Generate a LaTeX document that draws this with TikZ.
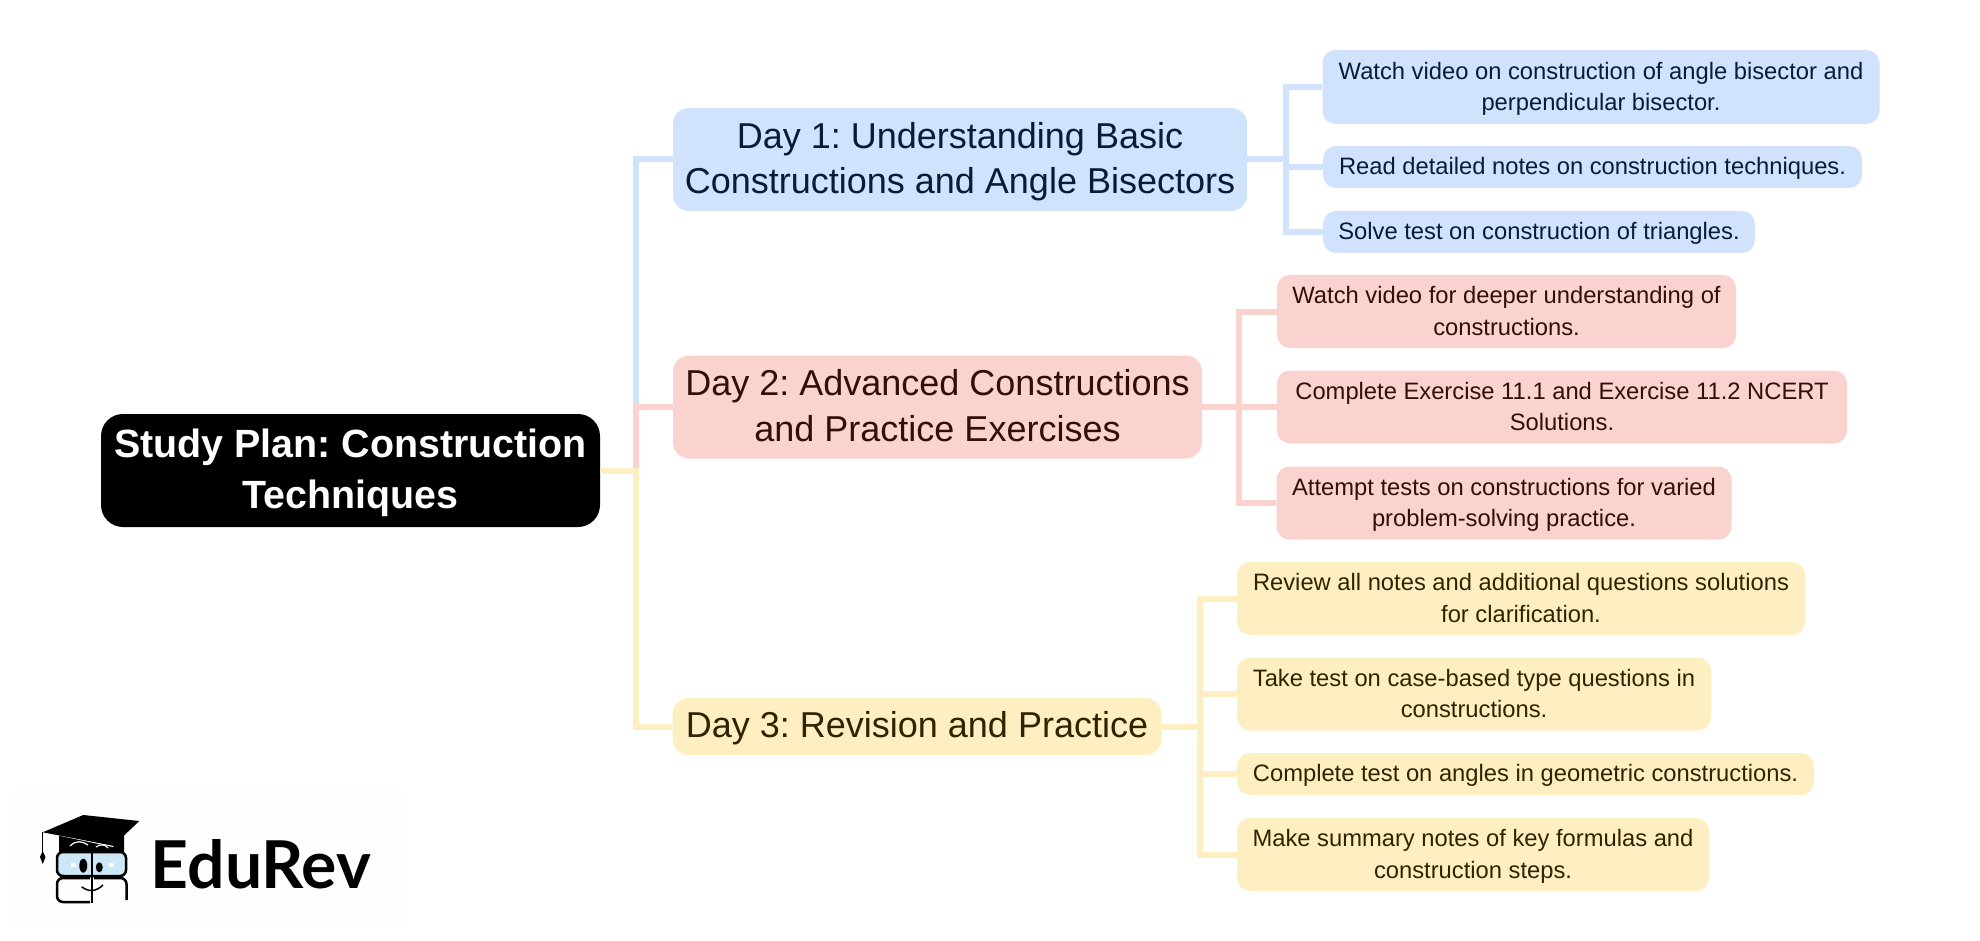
\documentclass[tikz,border=0pt]{standalone}
\usepackage{fontspec}
\setmainfont{Liberation Sans}
\newfontfamily\logofont{Lato}
\frenchspacing
\newcommand{\boxstrut}{\rule[-.25\baselineskip]{0pt}{\baselineskip}}
\newcommand{\boxtext}[1]{\boxstrut #1\boxstrut}
\definecolor{bluefill}{HTML}{D0E2FC}
\definecolor{bluetext}{HTML}{0B1A3A}
\definecolor{redfill}{HTML}{FBD3CE}
\definecolor{redtext}{HTML}{340D0B}
\definecolor{yellowfill}{HTML}{FEEFC3}
\definecolor{yellowtext}{HTML}{302400}
\definecolor{glassblue}{HTML}{CDE7F7}
\definecolor{logoback}{HTML}{FEFEFE}
\begin{document}
\begin{tikzpicture}[x=1pt, y=-1pt]
      \useasboundingbox (0,0) rectangle (1980,941);
      \tikzstyle{box}=[rounded corners=16pt, inner sep=0pt, align=center]
      \tikzstyle{rootbox}=[box, fill=black, text=white, rounded corners=22pt,
        font=\fontsize{39.4}{50.5}\selectfont\bfseries]
      \tikzstyle{daybox}=[box, font=\fontsize{36}{45.5}\selectfont]
      \tikzstyle{leafbox}=[box, rounded corners=13pt, font=\fontsize{23.75}{31.5}\selectfont]
      \tikzstyle{bluebox}=[fill=bluefill, text=bluetext]
      \tikzstyle{redbox}=[fill=redfill, text=redtext]
      \tikzstyle{yellowbox}=[fill=yellowfill, text=yellowtext]
      \tikzstyle{link}=[line width=6pt]

      \path (350.5,470.5) node [rootbox, minimum width=499pt, minimum height=113pt] (root)
        {\boxtext{Study Plan: Construction\\Techniques}};

      \path (960,159.5) node [daybox, bluebox, minimum width=574pt, minimum height=103pt] (day1)
        {\boxtext{Day 1: Understanding Basic\\Constructions and Angle Bisectors}};
      \path (937.5,407) node [daybox, redbox, minimum width=529pt, minimum height=103pt] (day2)
        {\boxtext{Day 2: Advanced Constructions\\and Practice Exercises}};
      \path (917,726.5) node [daybox, yellowbox, minimum width=489pt, minimum height=57pt] (day3)
        {\boxtext{Day 3: Revision and Practice}};

      \path (1601,87) node [leafbox, bluebox, minimum width=557pt, minimum height=74pt] (blue1)
        {\boxtext{Watch video on construction of angle bisector and\\perpendicular bisector.}};
      \path (1592.5,167) node [leafbox, bluebox, minimum width=539pt, minimum height=42pt] (blue2)
        {\boxtext{Read detailed notes on construction techniques.}};
      \path (1539,232) node [leafbox, bluebox, minimum width=432pt, minimum height=42pt] (blue3)
        {\boxtext{Solve test on construction of triangles.}};

      \path (1506.5,311.5) node [leafbox, redbox, minimum width=459pt, minimum height=73pt] (red1)
        {\boxtext{Watch video for deeper understanding of\\constructions.}};
      \path (1562,407) node [leafbox, redbox, minimum width=570pt, minimum height=73pt] (red2)
        {\boxtext{Complete Exercise 11.1 and Exercise 11.2 NCERT\\Solutions.}};
      \path (1504,503) node [leafbox, redbox, minimum width=455pt, minimum height=73pt] (red3)
        {\boxtext{Attempt tests on constructions for varied\\problem-solving practice.}};

      \path (1521,598.5) node [leafbox, yellowbox, minimum width=568pt, minimum height=73pt] (yellow1)
        {\boxtext{Review all notes and additional questions solutions\\for clarification.}};
      \path (1474,694) node [leafbox, yellowbox, minimum width=474pt, minimum height=73pt] (yellow2)
        {\boxtext{Take test on case-based type questions in\\constructions.}};
      \path (1525.5,774) node [leafbox, yellowbox, minimum width=577pt, minimum height=42pt] (yellow3)
        {\boxtext{Complete test on angles in geometric constructions.}};
      \path (1473,854.5) node [leafbox, yellowbox, minimum width=472pt, minimum height=73pt] (yellow4)
        {\boxtext{Make summary notes of key formulas and\\construction steps.}};

      \coordinate (rootbar) at (635.5,0);
      \coordinate (bluebar) at (1285.5,0);
      \coordinate (redbar) at (1239,0);
      \coordinate (yellowbar) at (1199.5,0);

      \draw [link, bluefill] (root.east) -| (rootbar |- day1.west) -- (day1.west);
      \draw [link, redfill] (root.east) -| (rootbar |- day2.west) -- (day2.west);
      \draw [link, yellowfill] (root.east) -| (rootbar |- day3.west) -- (day3.west);

      \foreach \i in {1, 2, 3}
      {
        \draw [link, bluefill] (day1.east) -| (bluebar |- blue\i.west) -- (blue\i.west);
        \draw [link, redfill] (day2.east) -| (redbar |- red\i.west) -- (red\i.west);
      }

      \foreach \i in {1, ..., 4}
      {
        \draw [link, yellowfill] (day3.east) -| (yellowbar |- yellow\i.west) -- (yellow\i.west);
      }

      % logo
      \fill [logoback] (10,790) rectangle (405,925);
      \path (150.5,888) node [anchor=base west, inner sep=0pt, font=\logofont\fontsize{66}{66}\selectfont\bfseries] (logotext) {EduRev};
      \fill (59,834) -- (59,852) -- (124,852) -- (124,830) -- cycle;
      \draw [white, line width=1.2pt] (59,835) -- (113.5,846.5);
      \draw [white, line width=1.2pt] (70,846) .. controls (76,840) and (82,841) .. (88,845);
      \draw [white, line width=1.2pt] (96,847) .. controls (100,844) and (105,844) .. (108,848);
      \fill (42.7,832.3) -- (83.3,815) -- (139.3,821) -- (113.3,845.7) -- cycle;
      \draw [line width=1.2pt] (42.7,832.3) -- (42.7,852);
      \fill (42.7,851) -- (45.5,857) -- (42.7,864) -- (40,857) -- cycle;
      \draw [fill=glassblue, line width=2.5pt, rounded corners=6pt] (57,852) rectangle (126,876);
      \draw [line width=2.5pt, rounded corners=6pt] (90,878) -- (57,878) -- (57,902) -- (90,902);
      \draw [line width=2.5pt, rounded corners=6pt] (94,878) -- (126.5,878) -- (126.5,900);
      \draw [line width=2pt] (91.5,851) -- (91.5,903);
      \fill (83.3,865.7) ellipse [x radius=4pt, y radius=7pt];
      \fill (99.3,867.3) ellipse [x radius=3.5pt, y radius=5pt];
      \fill [white] (71,863) rectangle (76,867);
      \fill [white] (109,863) rectangle (114,867);
      \draw [line width=1.5pt] (81.7,886.7) .. controls (88,892) and (96,892) .. (103,885);
    \end{tikzpicture}
\end{document}
